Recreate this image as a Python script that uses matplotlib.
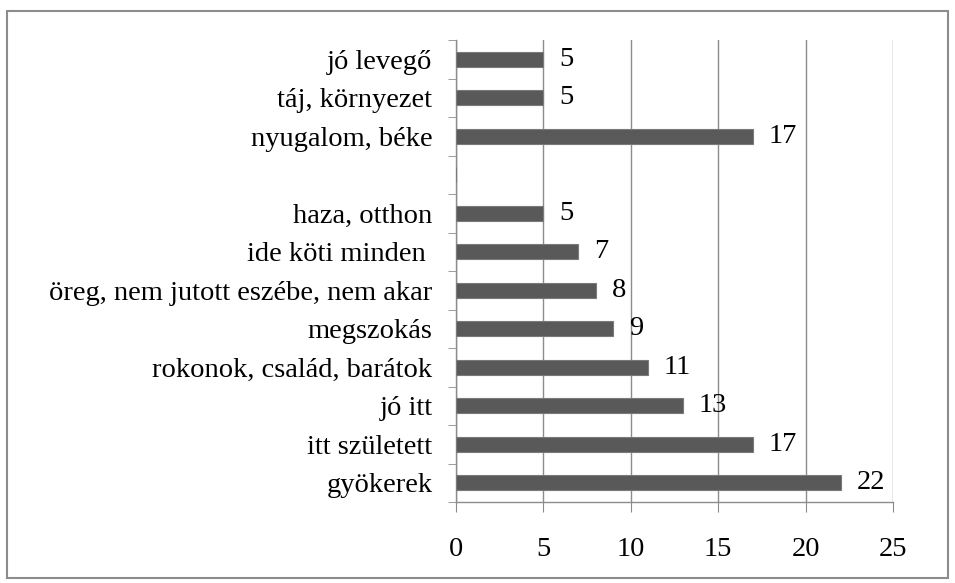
import numpy as np
import matplotlib.pyplot as plt
from matplotlib.patches import Rectangle

# data (bottom to top)
categories = ["gyökerek", "itt született", "jó itt", "rokonok, család, barátok",
              "megszokás", "öreg, nem jutott eszébe, nem akar", "ide köti minden ",
              "haza, otthon", "", "nyugalom, béke", "táj, környezet", "jó levegő"]
values = [22, 17, 13, 11, 9, 8, 7, 5, np.nan, 17, 5, 5]
x_ticks = [0, 5, 10, 15, 20, 25]

plt.rcParams['font.family'] = ['Liberation Serif', 'DejaVu Serif']
FS = 20.5

fig = plt.figure(figsize=(9.55, 5.83), dpi=100)
ax = fig.add_axes([456 / 955, 1 - 502 / 583, 437 / 955, 462 / 583])

# outer border
fig.patches.append(Rectangle((7 / 955, 1 - 578 / 583), 941 / 955, 567 / 583,
                             transform=fig.transFigure, fill=False,
                             edgecolor='#8c8c8c', linewidth=1.5))

y = np.arange(len(categories))
vals = np.nan_to_num(values)
ax.barh(y, vals, height=0.4, color='#595959', edgecolor='#7a7a7a',
        linewidth=0.8, zorder=3)

for yi, v in zip(y, values):
    if not np.isnan(v):
        ax.text(v + 0.9, yi, str(v), va='center', ha='left', fontsize=FS)

ax.set_xlim(0, 25)
ax.set_ylim(-0.5, len(categories) - 0.5)
ax.set_xticks(x_ticks)
ax.set_xticklabels([str(t) for t in x_ticks], fontsize=FS)
ax.set_yticks(y)
ax.set_yticklabels(categories, fontsize=FS)
ax.set_yticks(np.arange(-0.5, len(categories)), minor=True)

ax.tick_params(axis='y', which='major', length=0, pad=17)
ax.tick_params(axis='y', which='minor', length=6, color='#8c8c8c', direction='out')
ax.tick_params(axis='x', length=7, color='#8c8c8c', direction='out', pad=18)

ax.grid(axis='x', color='#8c8c8c', linewidth=1, zorder=0)
ax.set_axisbelow(True)

for side in ['top', 'right']:
    ax.spines[side].set_visible(False)
for side in ['left', 'bottom']:
    ax.spines[side].set_color('#8c8c8c')
    ax.spines[side].set_linewidth(1)

fig.savefig("out.png", dpi=100)
